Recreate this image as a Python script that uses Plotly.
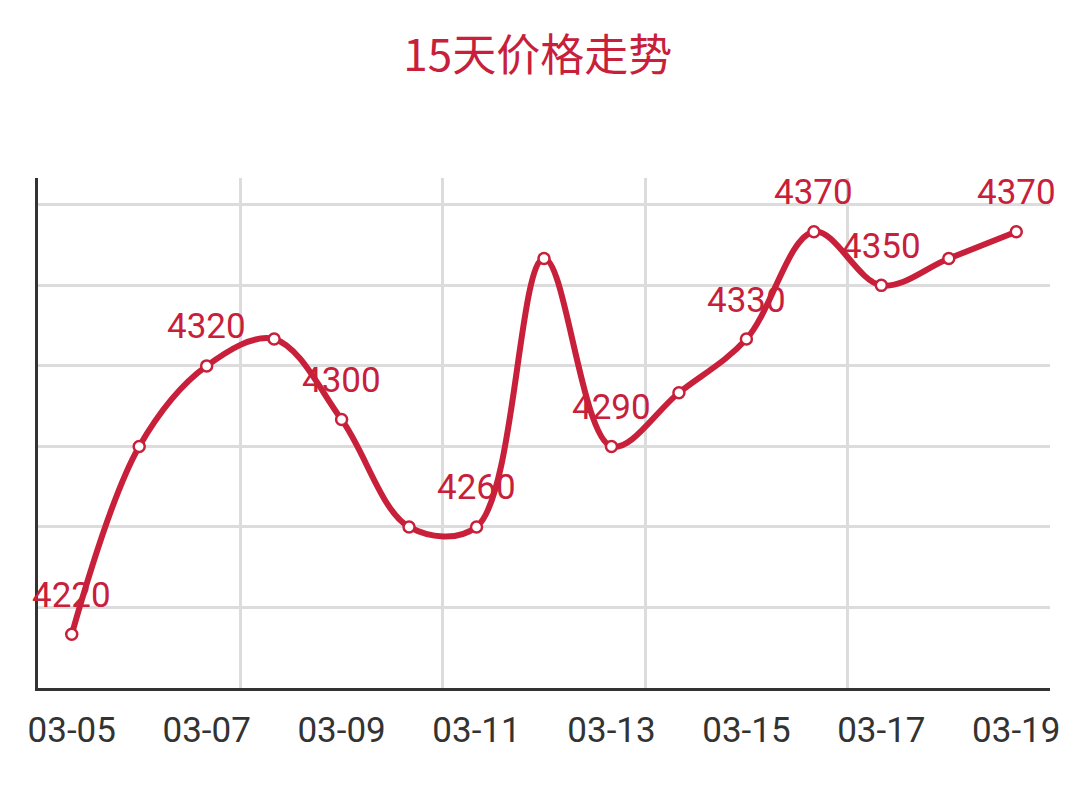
import plotly.graph_objects as go

dates = ["03-05", "03-06", "03-07", "03-08", "03-09", "03-10", "03-11", "03-12",
         "03-13", "03-14", "03-15", "03-16", "03-17", "03-18", "03-19"]
prices = [4220, 4290, 4320, 4330, 4300, 4260, 4260, 4360, 4290, 4310, 4330, 4370, 4350, 4360, 4370]
labeled_idx = [0, 2, 4, 6, 8, 10, 11, 12, 14]
tick_idx = [0, 2, 4, 6, 8, 10, 12, 14]
y_grid = [4200, 4230, 4260, 4290, 4320, 4350, 4380, 4390]

RED = "#c8203a"
x = list(range(len(dates)))

fig = go.Figure()
fig.add_trace(go.Scatter(
    x=x, y=prices, mode="lines+markers",
    line=dict(color=RED, width=6, shape="spline", smoothing=1.0),
    marker=dict(size=11, color="white", line=dict(color=RED, width=2.5)),
    cliponaxis=False, hoverinfo="skip",
))

annotations = []
for i in labeled_idx:
    annotations.append(dict(
        x=x[i], y=prices[i], xref="x", yref="y", text=str(prices[i]),
        showarrow=False, yshift=39, xanchor="center", yanchor="middle",
        font=dict(family="Roboto", size=35, color=RED),
    ))

fig.update_layout(
    width=1080, height=798,
    paper_bgcolor="white", plot_bgcolor="white",
    margin=dict(l=30, r=38, t=170, b=118),
    showlegend=False,
    annotations=annotations,
    title=dict(text="15天价格走势", x=0.4905, xanchor="center", y=0.94, yanchor="middle",
               font=dict(family="Noto Sans CJK SC", size=44, color=RED)),
)
fig.update_xaxes(
    range=[-0.5, 14.5], tickmode="array",
    tickvals=tick_idx, ticktext=[dates[i] for i in tick_idx],
    tickfont=dict(family="Roboto", size=35, color="#333333"),
    showgrid=False, zeroline=False,
    showline=True, linecolor="#333333", linewidth=3,
    ticks="", ticklabelstandoff=9,
    minor=dict(tickvals=[-0.5, 2.5, 5.5, 8.5, 11.5, 14.5], showgrid=True,
               gridcolor="#dcdcdc", gridwidth=2.5, ticks=""),
)
fig.update_yaxes(
    range=[4200, 4390], tickmode="array", tickvals=y_grid,
    showticklabels=False, showgrid=True, gridcolor="#dcdcdc", gridwidth=2.5,
    zeroline=False, showline=True, linecolor="#333333", linewidth=3, ticks="",
)

fig.write_html("out.html")
